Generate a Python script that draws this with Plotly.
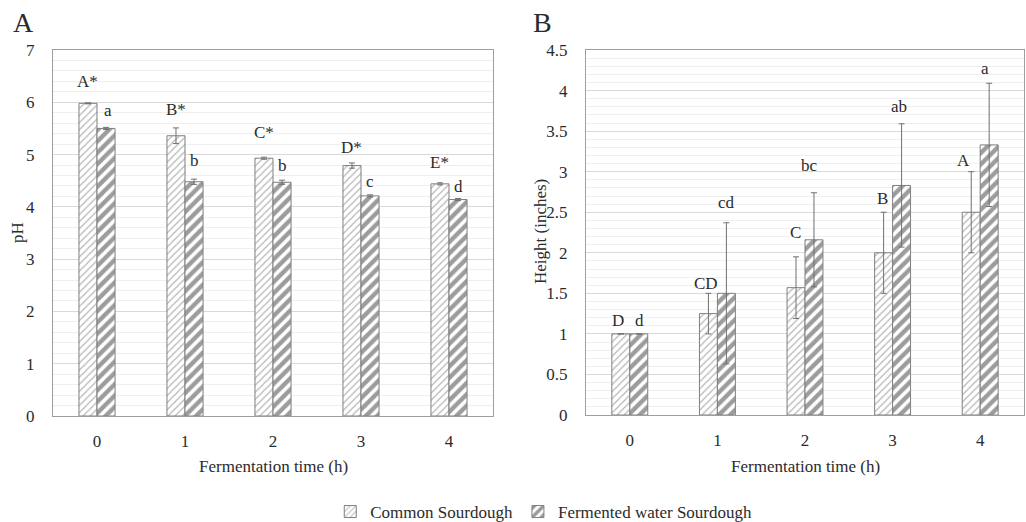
import plotly.graph_objects as go

# ---- data ----
hours = [0, 1, 2, 3, 4]
hour_labels = ["0", "1", "2", "3", "4"]
series_names = ["Common Sourdough", "Fermented water Sourdough"]

ph_common = [5.98, 5.36, 4.93, 4.79, 4.44]
ph_common_err = [0.01, 0.15, 0.02, 0.05, 0.02]
ph_fermented = [5.50, 4.48, 4.47, 4.21, 4.14]
ph_fermented_err = [0.02, 0.05, 0.04, 0.02, 0.02]
ph_common_letters = ["A*", "B*", "C*", "D*", "E*"]
ph_fermented_letters = ["a", "b", "b", "c", "d"]

height_common = [1.0, 1.25, 1.57, 2.0, 2.5]
height_common_err = [0.0, 0.25, 0.38, 0.5, 0.5]
height_fermented = [1.0, 1.5, 2.16, 2.83, 3.33]
height_fermented_err = [0.0, 0.87, 0.58, 0.76, 0.76]
height_common_letters = ["D", "CD", "C", "B", "A"]
height_fermented_letters = ["d", "cd", "bc", "ab", "a"]

# ---- style ----
FONT = "Liberation Serif"
TXT = "#2b2b2b"
W, H = 1026, 522
BARGAP = 0.59
HALF = (1 - BARGAP) / 4  # offset of each bar centre from the category centre

# label offsets above the error-bar tops (pixels)
ph_common_shift = [21, 18, 25, 15, 20]
ph_fermented_shift = [17, 19, 15, 13, 12]
height_common_shift = [13, 10, 24, 14, 11]
height_fermented_shift = [13, 20, 27, 17, 15]

common_pattern = dict(shape="/", size=5, solidity=0.25, fgcolor="#6e6e6e", bgcolor="white")
ferment_pattern = dict(shape="/", size=8, solidity=0.55, fgcolor="#3a3a3a", bgcolor="white")
err_style = dict(type="data", color="#707070", thickness=1, width=3)

def px_x(a, b):
    return [a / W, b / W]

def px_y(top, bottom):
    return [1 - bottom / H, 1 - top / H]

fig = go.Figure()

def add_pair(xa, ya, common, common_err, ferm, ferm_err, legend):
    fig.add_trace(go.Bar(
        x=hours, y=common, name=series_names[0], xaxis=xa, yaxis=ya,
        marker=dict(color="white", pattern=common_pattern,
                    line=dict(color="#7f7f7f", width=1)),
        error_y=dict(array=common_err, **err_style),
        showlegend=legend, legendgroup="c"))
    fig.add_trace(go.Bar(
        x=hours, y=ferm, name=series_names[1], xaxis=xa, yaxis=ya,
        marker=dict(color="white", pattern=ferment_pattern,
                    line=dict(color="#7f7f7f", width=1)),
        error_y=dict(array=ferm_err, **err_style),
        showlegend=legend, legendgroup="f"))

add_pair("x", "y", ph_common, ph_common_err, ph_fermented, ph_fermented_err, True)
add_pair("x2", "y2", height_common, height_common_err,
         height_fermented, height_fermented_err, False)

annotations = []

def add_letters(xref, yref, vals, errs, letters, shifts, side, xshifts=None):
    for i, (v, e, t, s) in enumerate(zip(vals, errs, letters, shifts)):
        annotations.append(dict(
            x=hours[i] + side * HALF, y=v + e, xref=xref, yref=yref,
            text=t, showarrow=False, xanchor="center", yanchor="middle", yshift=s,
            xshift=(xshifts[i] if xshifts else 0),
            font=dict(family=FONT, size=17, color=TXT)))

add_letters("x", "y", ph_common, ph_common_err, ph_common_letters, ph_common_shift, -1)
add_letters("x", "y", ph_fermented, ph_fermented_err, ph_fermented_letters, ph_fermented_shift, 1,
            [2, 0, 0, 0, 0])
add_letters("x2", "y2", height_common, height_common_err, height_common_letters,
            height_common_shift, -1, [-3, -2, -1, -1, -8])
add_letters("x2", "y2", height_fermented, height_fermented_err, height_fermented_letters,
            height_fermented_shift, 1, [1, 0, -4, -3, -4])

def paper_text(px, py, text, size, angle=0):
    return dict(x=px / W, y=1 - py / H, xref="paper", yref="paper", text=text,
                textangle=angle, showarrow=False, xanchor="center", yanchor="middle",
                font=dict(family=FONT, size=size, color=TXT))

# panel letters and axis titles
annotations += [
    paper_text(23, 22, "A", 28),
    paper_text(542, 22, "B", 28),
    paper_text(17, 233, "pH", 17, -90),
    paper_text(540, 232, "Height (inches)", 17, -90),
    paper_text(273, 466, "Fermentation time (h)", 17),
    paper_text(805, 466, "Fermentation time (h)", 17),
]

axis_line = "#9e9e9e"
common_x = dict(range=[-0.5, 4.5], tickmode="array", tickvals=hours, ticktext=hour_labels,
                showgrid=False, showline=True, linecolor=axis_line, mirror=True,
                ticks="", ticklabelstandoff=10, zeroline=False,
                tickfont=dict(family=FONT, size=17, color=TXT))
common_y = dict(showline=True, linecolor=axis_line, mirror=True, ticks="",
                gridcolor="#d9d9d9", zeroline=False, ticklabelstandoff=14,
                tickfont=dict(family=FONT, size=17, color=TXT))

fig.update_layout(
    width=W, height=H,
    margin=dict(l=0, r=0, t=0, b=0, autoexpand=False),
    paper_bgcolor="white", plot_bgcolor="white",
    barmode="group", bargap=BARGAP, bargroupgap=0,
    xaxis=dict(domain=px_x(53, 493), anchor="y", **common_x),
    yaxis=dict(domain=px_y(50, 416), anchor="x", range=[0, 7], dtick=1,
               minor=dict(dtick=0.2, showgrid=True, gridcolor="#efefef"), **common_y),
    xaxis2=dict(domain=px_x(586, 1024), anchor="y2", **common_x),
    yaxis2=dict(domain=px_y(50, 415), anchor="x2", range=[0, 4.5], dtick=0.5,
                minor=dict(dtick=0.1, showgrid=True, gridcolor="#efefef"), **common_y),
    legend=dict(orientation="h", x=0.53, xanchor="center", y=1 - 512 / H, yanchor="middle",
                font=dict(family=FONT, size=17, color=TXT), itemwidth=30,
                bgcolor="rgba(0,0,0,0)"),
    annotations=annotations,
)

fig.write_html("out.html")
